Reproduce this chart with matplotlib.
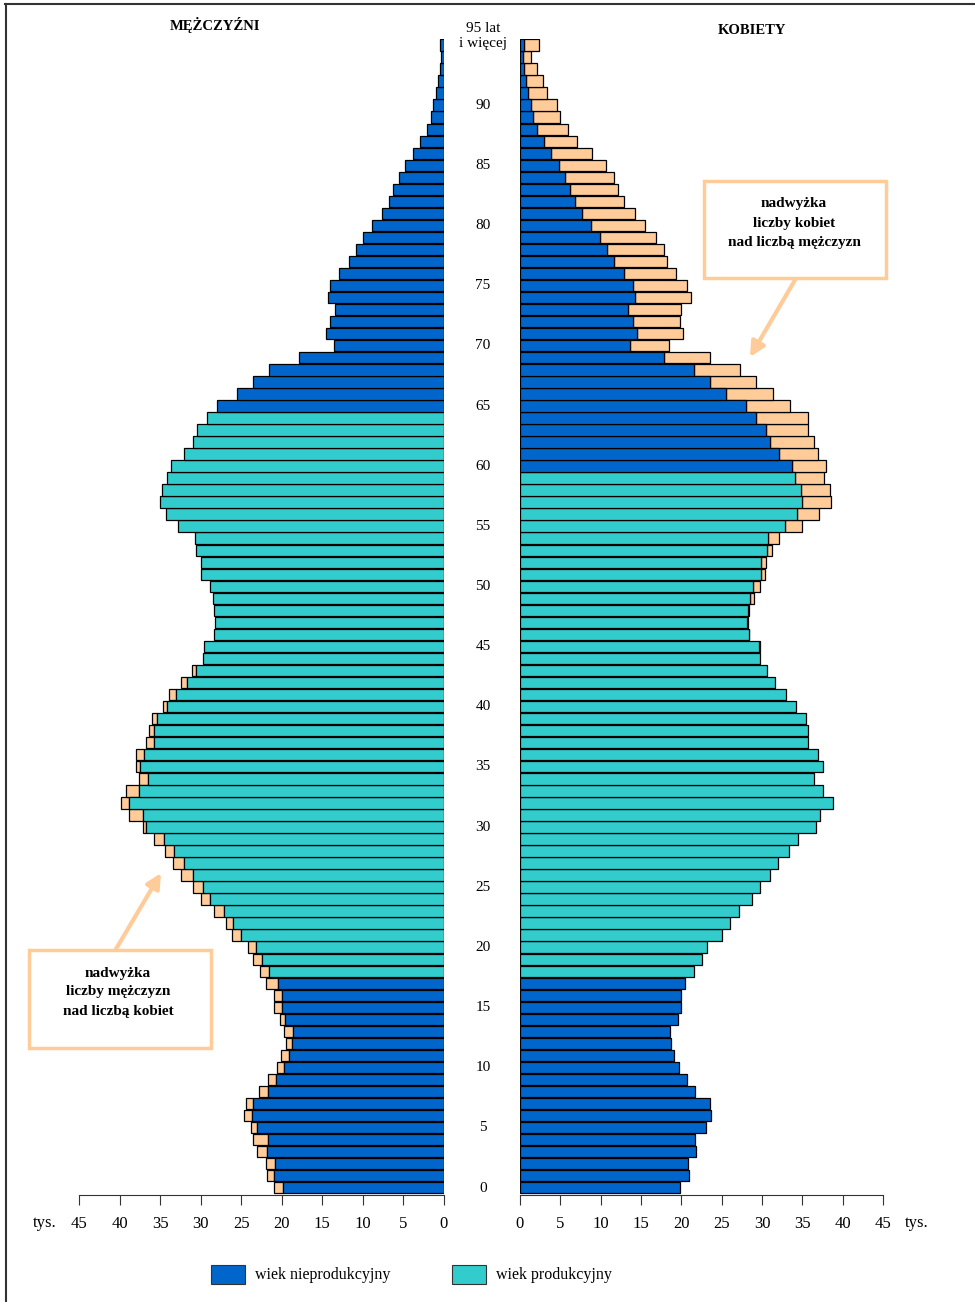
import matplotlib
matplotlib.use("Agg")
import matplotlib.pyplot as plt
import matplotlib.patches as mpatches
import numpy as np

plt.rcParams['font.family'] = ['Liberation Serif', 'DejaVu Serif']

# wiek 0..95 (95 = 95 lat i więcej), w tys.
ages = np.arange(96)

men = [21.0, 21.8, 21.9, 23.0, 23.6, 23.8, 24.7, 24.4, 22.8, 21.7,
       20.6, 20.1, 19.5, 19.7, 20.2, 21.0, 21.0, 21.9, 22.7, 23.6,
       24.2, 26.1, 26.9, 28.4, 30.0, 30.9, 32.4, 33.4, 34.4, 35.8,
       37.1, 38.8, 39.8, 39.2, 37.6, 38.0, 38.0, 36.7, 36.4, 36.0,
       34.7, 33.9, 32.4, 31.1, 29.7, 29.6, 28.4, 28.2, 28.3, 28.5,
       28.9, 29.9, 29.9, 30.6, 30.7, 32.8, 34.3, 35.0, 34.8, 34.1,
       33.7, 32.1, 31.0, 30.5, 29.2, 28.0, 25.5, 23.5, 21.6, 17.9,
       13.6, 14.5, 14.05, 13.4, 14.3, 14.0, 12.9, 11.7, 10.8, 9.95,
       8.85, 7.7, 6.8, 6.25, 5.55, 4.85, 3.8, 3.0, 2.1, 1.6,
       1.4, 1.0, 0.8, 0.5, 0.33, 0.5]

women = [19.85, 20.9, 20.8, 21.8, 21.7, 23.05, 23.7, 23.5, 21.7, 20.7,
         19.7, 19.1, 18.7, 18.6, 19.6, 20.0, 19.95, 20.5, 21.6, 22.5,
         23.2, 25.0, 26.0, 27.1, 28.8, 29.75, 31.0, 32.0, 33.3, 34.5,
         36.7, 37.15, 38.8, 37.6, 36.5, 37.5, 37.0, 35.7, 35.7, 35.4,
         34.2, 33.0, 31.65, 30.6, 29.7, 29.7, 28.45, 28.3, 28.35, 29.0,
         29.75, 30.4, 30.5, 31.3, 32.1, 35.0, 37.1, 38.6, 38.4, 37.7,
         37.9, 36.9, 36.4, 35.7, 35.7, 33.5, 31.4, 29.2, 27.3, 23.6,
         18.5, 20.2, 19.8, 19.9, 21.2, 20.7, 19.4, 18.2, 17.8, 16.9,
         15.5, 14.2, 12.85, 12.2, 11.6, 10.7, 8.9, 7.1, 5.9, 5.0,
         4.6, 3.4, 2.8, 2.1, 1.4, 2.3]

xticks = [0, 5, 10, 15, 20, 25, 30, 35, 40, 45]
age_labels = [0, 5, 10, 15, 20, 25, 30, 35, 40, 45, 50, 55, 60, 65, 70, 75, 80, 85, 90]

BLUE = '#0066CC'
TEAL = '#33CCCC'
PEACH = '#FFCC99'

W, H = 975, 1302
fig = plt.figure(figsize=(W / 100, H / 100), dpi=100)


def fx(x):
    return x / W


def fy(y):
    return 1 - y / H


men = np.array(men)
women = np.array(women)
low = np.minimum(men, women)
men_col = [BLUE if (a < 18 or a >= 65) else TEAL for a in ages]
wom_col = [BLUE if (a < 18 or a >= 60) else TEAL for a in ages]

bottom_px, top_px = 1195, 39
ax_l = fig.add_axes([fx(79), fy(bottom_px), fx(444) - fx(79), (bottom_px - top_px) / H])
ax_r = fig.add_axes([fx(520), fy(bottom_px), fx(883) - fx(520), (bottom_px - top_px) / H])

bh = 0.95
# mezczyzni
m_ex = men > women
ax_l.barh(ages[m_ex], (men - low)[m_ex], left=low[m_ex], height=bh,
          color=PEACH, edgecolor='black', linewidth=0.9)
ax_l.barh(ages, low, height=bh, color=men_col, edgecolor='black', linewidth=0.9)
# kobiety
w_ex = women > men
ax_r.barh(ages[w_ex], (women - low)[w_ex], left=low[w_ex], height=bh,
          color=PEACH, edgecolor='black', linewidth=0.9)
ax_r.barh(ages, low, height=bh, color=wom_col, edgecolor='black', linewidth=0.9)

for ax, lim in [(ax_l, (45, 0)), (ax_r, (0, 45))]:
    ax.set_xlim(*lim)
    ax.set_ylim(-0.6, 95.5)
    ax.set_xticks(xticks)
    ax.set_yticks([])
    for s in ['left', 'right', 'top']:
        ax.spines[s].set_visible(False)
    ax.spines['bottom'].set_color('#333333')
    ax.tick_params(axis='x', direction='out', length=7, pad=8, labelsize=12,
                   color='#333333')
    ax.set_facecolor('none')

fig.text(fx(45), fy(1223), 'tys.', ha='center', va='center', fontsize=12)
fig.text(fx(917), fy(1223), 'tys.', ha='center', va='center', fontsize=12)

# etykiety wieku
for a in age_labels:
    yp = 1188 - a * 12.03
    fig.text(fx(483), fy(yp), str(a), ha='center', va='center', fontsize=11)
fig.text(fx(483), fy(29), '95 lat', ha='center', va='center', fontsize=11)
fig.text(fx(483), fy(43), 'i więcej', ha='center', va='center', fontsize=11)

fig.text(fx(215), fy(25), 'MĘŻCZYŹNI', ha='center', va='center', fontsize=10.5, fontweight='bold')
fig.text(fx(752), fy(30), 'KOBIETY', ha='center', va='center', fontsize=10.5, fontweight='bold')

# ramki z opisami
fig.patches.append(mpatches.Rectangle((fx(704), fy(278)), fx(886) - fx(704), (278 - 181) / H,
                                      transform=fig.transFigure, facecolor='white',
                                      edgecolor=PEACH, linewidth=2.5))
fig.text(fx(794), fy(223), 'nadwyżka\nliczby kobiet\nnad liczbą mężczyzn', ha='center', va='center',
         fontsize=11, fontweight='bold', linespacing=1.65)
fig.patches.append(mpatches.Rectangle((fx(29), fy(1048)), fx(211) - fx(29), (1048 - 950) / H,
                                      transform=fig.transFigure, facecolor='white',
                                      edgecolor=PEACH, linewidth=2.5))
fig.text(fx(118), fy(992), 'nadwyżka\nliczby mężczyzn\nnad liczbą kobiet', ha='center', va='center',
         fontsize=11, fontweight='bold', linespacing=1.6)

arrow = dict(arrowstyle='-|>', color=PEACH, lw=3, mutation_scale=22, shrinkA=0, shrinkB=0)
fig.add_artist(mpatches.FancyArrowPatch((fx(795), fy(280)), (fx(750), fy(357)),
                                        transform=fig.transFigure, **arrow))
fig.add_artist(mpatches.FancyArrowPatch((fx(116), fy(949)), (fx(161), fy(873)),
                                        transform=fig.transFigure, **arrow))

# legenda
fig.patches.append(mpatches.Rectangle((fx(211), fy(1284)), fx(245) - fx(211), 19 / H,
                                      transform=fig.transFigure, facecolor=BLUE,
                                      edgecolor='#333333', linewidth=0.8))
fig.text(fx(255), fy(1275), 'wiek nieprodukcyjny', ha='left', va='center', fontsize=11.5)
fig.patches.append(mpatches.Rectangle((fx(452), fy(1284)), fx(486) - fx(452), 19 / H,
                                      transform=fig.transFigure, facecolor=TEAL,
                                      edgecolor='#333333', linewidth=0.8))
fig.text(fx(496), fy(1275), 'wiek produkcyjny', ha='left', va='center', fontsize=11.5)

# obramowanie
fig.add_artist(plt.Line2D([fx(5), 1], [fy(3.5), fy(3.5)], transform=fig.transFigure,
                          color='#333333', linewidth=1.5))
fig.add_artist(plt.Line2D([fx(5.5), fx(5.5)], [fy(3.5), 0], transform=fig.transFigure,
                          color='#333333', linewidth=1.5))

plt.savefig('out.png', dpi=100)
plt.close()
